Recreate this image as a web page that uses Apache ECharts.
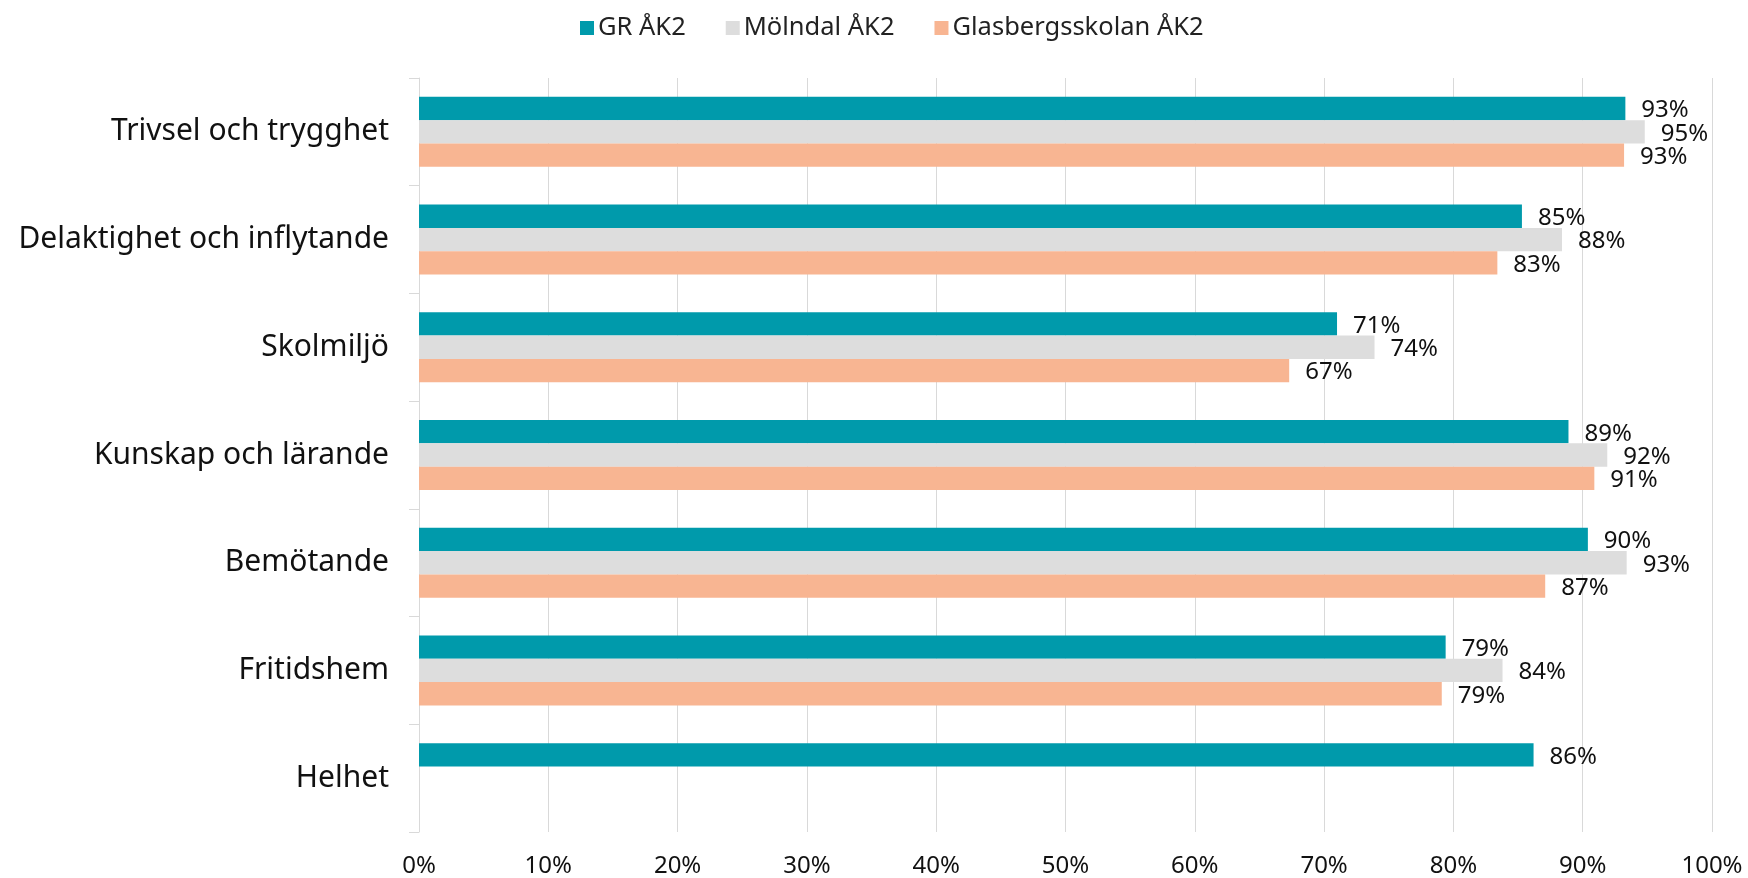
<!DOCTYPE html>
<html>
<head>
<meta charset="utf-8">
<script src="https://cdn.jsdelivr.net/npm/echarts@6/dist/echarts.min.js"></script>
<style>
html,body{margin:0;padding:0;background:#fff;}
#c{width:1748px;height:878px;}
</style>
</head>
<body>
<div id="c"></div>
<script>
const categories = ["Trivsel och trygghet","Delaktighet och inflytande","Skolmiljö","Kunskap och lärande","Bemötande","Fritidshem","Helhet"];
const seriesNames = ["GR ÅK2","Mölndal ÅK2","Glasbergsskolan ÅK2"];
const grValues = [93.3, 85.3, 71.0, 88.9, 90.4, 79.4, 86.2];
const molndalValues = [94.8, 88.4, 73.9, 91.9, 93.4, 83.8, null];
const glasbergValues = [93.2, 83.4, 67.3, 90.9, 87.1, 79.1, null];
const xTicks = [0,10,20,30,40,50,60,70,80,90,100];

const colors = ["#009AAB","#DDDDDD","#F8B592"];
const font = "Noto Sans";
const chart = echarts.init(document.getElementById('c'), null, {renderer:'canvas'});
function mk(name, data, color){
  return {
    name: name, type:'bar', data:data,
    barGap:'0%', barCategoryGap:'35%',
    itemStyle:{color:color},
    label:{show:true, position:'right', distance:16, offset:[0,2], color:'#111', fontFamily:font, fontSize:24,
      formatter:p => p.value==null ? '' : Math.round(p.value)+'%'}
  };
}
chart.setOption({
  animation:false,
  textStyle:{fontFamily:font},
  legend:{
    top:10, left:575,
    itemWidth:14, itemHeight:14, itemGap:40,
    icon:'rect',
    textStyle:{fontFamily:font, fontSize:25.5, color:'#222', padding:[0,0,0,-1]},
    data:seriesNames
  },
  grid:{left:419, right:36, top:78, bottom:46, containLabel:false},
  xAxis:{
    type:'value', min:0, max:100, interval:10,
    axisLine:{show:false}, axisTick:{show:false},
    splitLine:{show:true, lineStyle:{color:'#D9D9D9', width:1}},
    axisLabel:{fontFamily:font, fontSize:24, color:'#111', margin:22,
      formatter:v => xTicks.includes(v) ? v+'%' : ''}
  },
  yAxis:{
    type:'category', data:categories, inverse:true,
    axisLine:{show:true, lineStyle:{color:'#D9D9D9'}},
    axisTick:{show:true, length:10, lineStyle:{color:'#D9D9D9'}},
    axisLabel:{fontFamily:font, fontSize:30, color:'#111', margin:30, padding:[11,0,0,0]}
  },
  series:[mk(seriesNames[0], grValues, colors[0]), mk(seriesNames[1], molndalValues, colors[1]), mk(seriesNames[2], glasbergValues, colors[2])]
});
</script>
</body>
</html>
